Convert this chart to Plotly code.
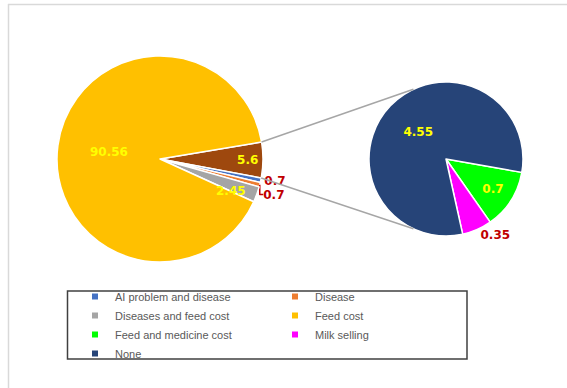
import math
import plotly.graph_objects as go

W, H = 567, 388

# ---- data ----
main_labels = ["Other", "AI problem and disease", "Disease", "Diseases and feed cost", "Feed cost"]
main_values = [5.6, 0.7, 0.7, 2.45, 90.56]
sub_labels = ["Feed and medicine cost", "Milk selling", "None"]
sub_values = [0.7, 0.35, 4.55]
legend_labels = ["AI problem and disease", "Disease", "Diseases and feed cost", "Feed cost",
                 "Feed and medicine cost", "Milk selling", "None"]

# ---- style ----
colors = {
    "Other": "#9E480E",
    "AI problem and disease": "#4472C4",
    "Disease": "#ED7D31",
    "Diseases and feed cost": "#A5A5A5",
    "Feed cost": "#FFC000",
    "Feed and medicine cost": "#00FF00",
    "Milk selling": "#FF00FF",
    "None": "#264478",
}
YEL, RED = "#FFFF00", "#C00000"
LABFONT = "DejaVu Sans"

# geometry (pixels)
c1x, c1y, r1 = 160, 159, 103
c2x, c2y, r2 = 446, 159, 77
rot1, rot2 = 80.5, 100.0


def dom(cx, cy, r):
    return dict(x=[(cx - r) / W, (cx + r) / W], y=[(H - cy - r) / H, (H - cy + r) / H])


def pt(cx, cy, r, ang):
    a = math.radians(ang)
    return (cx + r * math.sin(a)) / W, 1 - (cy - r * math.cos(a)) / H


fig = go.Figure()

main_pos = ["inside", "outside", "outside", "none", "inside"]
main_col = [YEL, RED, RED, YEL, YEL]
fig.add_trace(go.Pie(
    labels=main_labels, values=main_values, sort=False, direction="clockwise",
    rotation=rot1, domain=dom(c1x, c1y, r1),
    marker=dict(colors=[colors[l] for l in main_labels], line=dict(color="white", width=1.5)),
    texttemplate="%{value}", textposition=main_pos,
    textfont=dict(color=main_col, family=LABFONT, size=12, weight="bold"),
    outsidetextfont=dict(color=RED, family=LABFONT, size=12, weight="bold"),
    showlegend=False, hoverinfo="label+value",
))

sub_pos = ["inside", "outside", "inside"]
sub_col = [YEL, RED, YEL]
fig.add_trace(go.Pie(
    labels=sub_labels, values=sub_values, sort=False, direction="clockwise",
    rotation=rot2, domain=dom(c2x, c2y, r2),
    marker=dict(colors=[colors[l] for l in sub_labels], line=dict(color="white", width=1.5)),
    texttemplate="%{value}", textposition=sub_pos,
    textfont=dict(color=sub_col, family=LABFONT, size=12, weight="bold"),
    outsidetextfont=dict(color=RED, family=LABFONT, size=12, weight="bold"),
    insidetextorientation="horizontal",
    showlegend=False, hoverinfo="label+value",
))

# legend entries
for lab in legend_labels:
    fig.add_trace(go.Scatter(
        x=[None], y=[None], mode="markers", name=lab,
        marker=dict(symbol="square", size=6, color=colors[lab]),
    ))

total = sum(main_values)
a_start = rot1
a_end = rot1 + 360 * main_values[0] / total
# label for the thin grey slice
before = sum(main_values[:3])
g_mid = rot1 + 360 * (before + main_values[3] * 0.5) / total + 4
gx, gy = pt(c1x, c1y, r1 * 0.76, g_mid)

shapes = []
x0, y0 = pt(c1x, c1y, r1, a_start)
x1, y1 = pt(c2x, c2y, r2, -25)
shapes.append(dict(type="line", xref="paper", yref="paper", x0=x0, y0=y0, x1=x1, y1=y1,
                   line=dict(color="#A6A6A6", width=1.5)))
x0, y0 = pt(c1x, c1y, r1, a_end)
x1, y1 = pt(c2x, c2y, r2, 205)
shapes.append(dict(type="line", xref="paper", yref="paper", x0=x0, y0=y0, x1=x1, y1=y1,
                   line=dict(color="#A6A6A6", width=1.5)))
# legend box
shapes.append(dict(type="rect", xref="paper", yref="paper", x0=67.5 / W, x1=467 / W,
                   y0=1 - 359 / H, y1=1 - 291 / H, line=dict(color="#404040", width=1.5)))
# chart frame (top and left)
shapes.append(dict(type="line", xref="paper", yref="paper", x0=8 / W, x1=1, y0=1 - 4.5 / H, y1=1 - 4.5 / H,
                   line=dict(color="#D9D9D9", width=1.5)))
shapes.append(dict(type="line", xref="paper", yref="paper", x0=8.5 / W, x1=8.5 / W, y0=0, y1=1 - 4 / H,
                   line=dict(color="#D9D9D9", width=1.5)))

fig.update_layout(
    width=W, height=H, margin=dict(l=0, r=0, t=0, b=0),
    paper_bgcolor="white", plot_bgcolor="white",
    xaxis=dict(visible=False), yaxis=dict(visible=False),
    shapes=shapes,
    annotations=[dict(x=gx, y=gy, xref="paper", yref="paper", text=str(main_values[3]),
                      showarrow=False, font=dict(color=YEL, family=LABFONT, size=12, weight="bold"))],
    legend=dict(orientation="h", x=75 / W, xanchor="left", y=1 - 282 / H, yanchor="top",
                entrywidth=155, entrywidthmode="pixels", bgcolor="rgba(0,0,0,0)",
                font=dict(family="Liberation Sans", size=11, color="#595959"),
                itemwidth=30, tracegroupgap=0),
)

fig.write_html("out.html")
